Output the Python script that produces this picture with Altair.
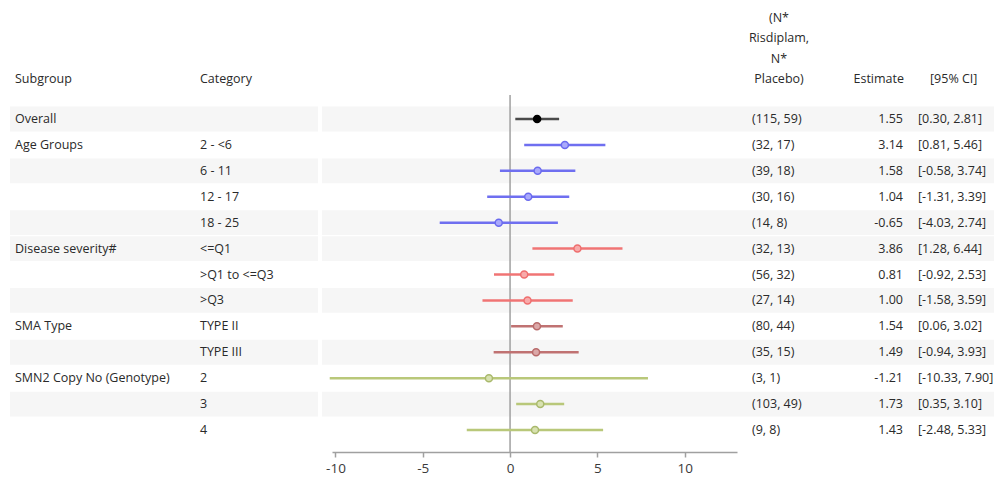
import altair as alt
import pandas as pd

subgroups = ["Overall", "Age Groups", "", "", "", "Disease severity#", "", "",
             "SMA Type", "", "SMN2 Copy No (Genotype)", "", ""]
categories = ["", "2 - <6", "6 - 11", "12 - 17", "18 - 25", "<=Q1", ">Q1 to <=Q3", ">Q3",
              "TYPE II", "TYPE III", "2", "3", "4"]
n_labels = ["(115, 59)", "(32, 17)", "(39, 18)", "(30, 16)", "(14, 8)", "(32, 13)", "(56, 32)",
            "(27, 14)", "(80, 44)", "(35, 15)", "(3, 1)", "(103, 49)", "(9, 8)"]
estimates = [1.55, 3.14, 1.58, 1.04, -0.65, 3.86, 0.81, 1.00, 1.54, 1.49, -1.21, 1.73, 1.43]
lower = [0.30, 0.81, -0.58, -1.31, -4.03, 1.28, -0.92, -1.58, 0.06, -0.94, -10.33, 0.35, -2.48]
upper = [2.81, 5.46, 3.74, 3.39, 2.74, 6.44, 2.53, 3.59, 3.02, 3.93, 7.90, 3.10, 5.33]
groups = ["Overall", "Age", "Age", "Age", "Age", "Severity", "Severity", "Severity",
          "SMA", "SMA", "SMN2", "SMN2", "SMN2"]
shaded = [1, 0, 1, 0, 1, 1, 0, 1, 0, 1, 0, 1, 0]

group_domain = ["Overall", "Age", "Severity", "SMA", "SMN2"]
line_colors = ["#4a4a4a", "#6f6ff0", "#f07474", "#c07272", "#b9c87a"]
fill_colors = ["#000000", "#a9a9fb", "#f8aaaa", "#dba8a8", "#d8e2b0"]
stroke_colors = ["#000000", "#6a6aee", "#ee6e6e", "#b86a6a", "#a9b96c"]

header_n = ["(N*", "Risdiplam,", "N*", "Placebo)"]

df = pd.DataFrame({
    "row": list(range(len(categories))),
    "subgroup": subgroups,
    "category": categories,
    "n": n_labels,
    "est": estimates,
    "lo": lower,
    "hi": upper,
    "group": groups,
    "shaded": shaded,
})
df["est_txt"] = df["est"].map(lambda v: f"{v:.2f}")
df["ci_txt"] = [f"[{a:.2f}, {b:.2f}]" for a, b in zip(df["lo"], df["hi"])]
df["r0"] = df["row"] - 0.48
df["r1"] = df["row"] + 0.48

FONT = "Open Sans"
TXT = "#2a2a2a"
FS = 12.5

xs = alt.Scale(domain=[-10.2, 13.0], range=[324, 729], nice=False, zero=False)
ys = alt.Scale(domain=[0, 12], range=[111, 422], nice=False, zero=False)
cs_line = alt.Scale(domain=group_domain, range=line_colors)
cs_fill = alt.Scale(domain=group_domain, range=fill_colors)
cs_stroke = alt.Scale(domain=group_domain, range=stroke_colors)

base = alt.Chart(df)
band_df = df[df["shaded"] == 1]

band_left = alt.Chart(band_df).mark_rect(color="#f6f6f6").encode(
    x=alt.value(2), x2=alt.value(310),
    y=alt.Y("r0:Q", scale=ys, axis=None), y2="r1:Q")
band_right = alt.Chart(band_df).mark_rect(color="#f6f6f6").encode(
    x=alt.value(314), x2=alt.value(994),
    y=alt.Y("r0:Q", scale=ys, axis=None), y2="r1:Q")

ref = alt.Chart(pd.DataFrame({"v": [0]})).mark_rule(color="#a0a0a0", strokeWidth=1.5).encode(
    x=alt.X("v:Q", scale=xs, axis=alt.Axis(
        values=[-10, -5, 0, 5, 10], grid=False, title=None, labelFont=FONT,
        labelFontSize=13.5, labelColor="#3a3a3a", tickColor="#a0a0a0", domainColor="#a0a0a0",
        tickSize=5, labelPadding=4, domainWidth=1.5, tickWidth=1.5,
        labelExpr="replace(datum.label, '\u2212', '-')")),
    y=alt.value(87), y2=alt.value(444))

ci = base.mark_rule(strokeWidth=2.5).encode(
    x=alt.X("lo:Q", scale=xs), x2="hi:Q",
    y=alt.Y("row:Q", scale=ys, axis=None),
    color=alt.Color("group:N", scale=cs_line, legend=None))

pts = base.mark_point(shape="circle", size=50, filled=True, strokeWidth=1.5, opacity=1).encode(
    x=alt.X("est:Q", scale=xs),
    y=alt.Y("row:Q", scale=ys, axis=None),
    fill=alt.Fill("group:N", scale=cs_fill, legend=None),
    stroke=alt.Stroke("group:N", scale=cs_stroke, legend=None))

def col_text(field, x, align="left"):
    return base.mark_text(align=align, baseline="middle", font=FONT, fontSize=FS, color=TXT).encode(
        x=alt.value(x), y=alt.Y("row:Q", scale=ys, axis=None), text=f"{field}:N")

t_sub = col_text("subgroup", 7)
t_cat = col_text("category", 192)
t_n = col_text("n", 744)
t_est = col_text("est_txt", 895, "right")
t_ci = col_text("ci_txt", 910)

def hdr(text, x, align="left"):
    return alt.Chart(pd.DataFrame({"t": [text]})).mark_text(
        align=align, baseline="middle", font=FONT, fontSize=FS, color=TXT).encode(
        x=alt.value(x), y=alt.value(71), text="t:N")

hdr_sub = hdr("Subgroup", 7)
hdr_cat = hdr("Category", 192)
hdr_est = hdr("Estimate", 896, "right")
hdr_ci = hdr("[95% CI]", 922)
hdr_n = alt.Chart(pd.DataFrame({"t": header_n, "k": [0, 1, 2, 3]})).mark_text(
    align="center", baseline="middle", font=FONT, fontSize=FS, color=TXT).encode(
    x=alt.value(771),
    y=alt.Y("k:Q", scale=alt.Scale(domain=[0, 3], range=[10, 71]), axis=None),
    text="t:N")

chart = alt.layer(
    band_left, band_right, ref, ci, pts,
    t_sub, t_cat, t_n, t_est, t_ci,
    hdr_sub, hdr_cat, hdr_est, hdr_ci, hdr_n,
).resolve_scale(y="independent").properties(
    width=986, height=444,
    autosize=alt.AutoSizeParams(type="none"),
    padding={"left": 0, "top": 0, "right": 0, "bottom": 31},
    background="white",
).configure_view(stroke=None)

chart.save("out.html", embed_options={"renderer": "svg", "actions": False})
